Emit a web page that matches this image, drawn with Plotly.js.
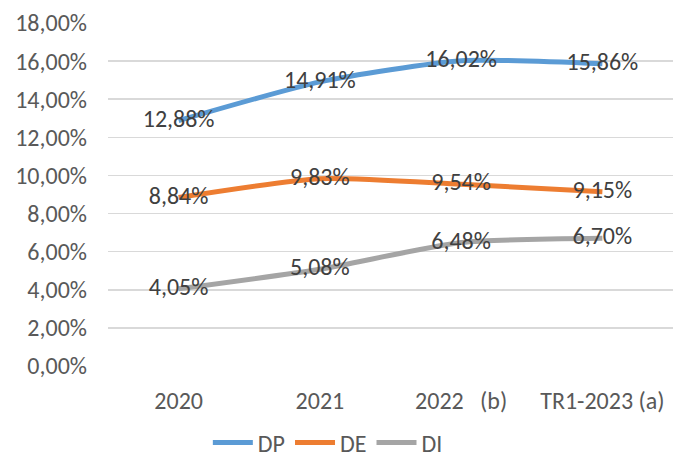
<!DOCTYPE html>
<html><head><meta charset="utf-8">
<script src="https://cdn.plot.ly/plotly-3.0.1.min.js"></script>
<style>html,body{margin:0;padding:0;background:#fff}</style>
</head><body><div id="c" style="width:683px;height:459px"></div>
<script>
const categories = ["2020", "2021", "2022\u00a0\u00a0\u00a0(b)", "TR1-2023 (a)"];
const dp = [12.88, 14.91, 16.02, 15.86];
const de = [8.84, 9.83, 9.54, 9.15];
const di = [4.05, 5.08, 6.48, 6.70];
const names = ["DP", "DE", "DI"];
const colors = ["#5B9BD5", "#ED7D31", "#A5A5A5"];
const fmt = v => v.toFixed(2).replace('.', ',') + '%';
const FONT = "Carlito, 'Liberation Sans Narrow', 'Open Sans', sans-serif";
const traces = [dp, de, di].map((s, i) => ({
  x: categories, y: s, name: names[i], type: 'scatter', mode: 'lines+text',
  line: {color: colors[i], width: 5, shape: 'spline', smoothing: 0.6},
  text: s.map(fmt), textposition: 'middle center',
  textfont: {family: FONT, size: 24, color: '#404040'},
  cliponaxis: false
}));
Plotly.newPlot('c', traces, {
  width: 683, height: 459,
  margin: {l: 108, r: 10, t: 23, b: 93},
  separators: ', ',
  paper_bgcolor: '#fff', plot_bgcolor: '#fff',
  font: {family: FONT, size: 24, color: '#595959'},
  xaxis: {type: 'category', range: [-0.5, 3.5], showgrid: false, zeroline: false, showline: false, ticks: '',
    tickfont: {size: 24, color: '#595959'}, ticklabelstandoff: 18, automargin: false},
  yaxis: {range: [0, 18], dtick: 2, tick0: 0, tickformat: '.2f', ticksuffix: '%',
    showgrid: true, gridcolor: '#D9D9D9', gridwidth: 1.5, zeroline: false, showline: false,
    tickfont: {size: 24, color: '#595959'}, ticklabelstandoff: 20, automargin: false},
  showlegend: true,
  legend: {orientation: 'h', x: 0.48, xref: 'container', xanchor: 'center',
    y: 0.035, yref: 'container', yanchor: 'middle',
    font: {size: 24, color: '#595959'}, itemwidth: 40, tracegroupgap: 0}
}, {displayModeBar: false, staticPlot: true});
</script></body></html>
